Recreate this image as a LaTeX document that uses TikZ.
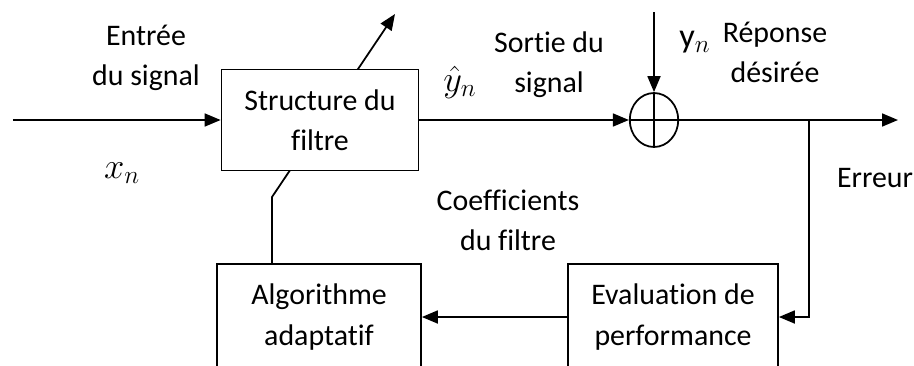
\documentclass[tikz,border=0pt]{standalone}
\usepackage{fontspec}
\setmainfont{Carlito}[Ligatures=NoCommon]
\usetikzlibrary{arrows.meta,shapes.geometric,backgrounds}
\begin{document}
\begin{tikzpicture}[
        >={Triangle[length=0.32cm,width=0.26cm]},
        line width=1pt,
        bloc/.style={draw,fill=white,align=center,font=\fontsize{17}{22.8}\selectfont},
        txt/.style={align=center,inner sep=1pt,font=\fontsize{17}{22.8}\selectfont},
        symb/.style={inner sep=1pt,font=\fontsize{19.5}{22}\selectfont},
        somme/.style={draw,ellipse,minimum width=0.97cm,minimum height=1.08cm,inner sep=0pt}
    ]
            \useasboundingbox (0,0) rectangle (18.28,-7.3);
            \clip (0,0) rectangle (18.28,-7.3);

            \node[bloc,minimum width=3.94cm,minimum height=2.02cm] (filtre) at (6.4,-2.4) {Structure du\\filtre};
            \node[somme] (sum) at (13.08,-2.4) {};
            \node[bloc,minimum width=4.08cm,minimum height=2.12cm] (algo) at (6.38,-6.34) {Algorithme\\adaptatif};
            \node[bloc,minimum width=4.2cm,minimum height=2.12cm] (eval) at (13.46,-6.34) {Evaluation de\\performance};

            \draw (sum.north) -- (sum.south);
            \draw (sum.west) -- (sum.east);

            \coordinate (entree) at (0.26,-2.4);
            \coordinate (sortie) at (17.96,-2.4);
            \coordinate (desire) at (13.08,-0.24);
            \coordinate (branche) at (16.18,-2.4);
            \coordinate (coude) at (5.44,-3.94);
            \coordinate (pointe) at (7.9,-0.28);

            \draw[->] (entree) -- (filtre);
            \draw[->] (filtre) -- (sum);
            \draw[->] (sum) -- (sortie);
            \draw[->] (desire) -- (sum);
            \draw[->] (branche) |- (eval);
            \draw[->] (eval) -- (algo);

            % reglage des coefficients, passe derriere le bloc
            \begin{scope}[on background layer]
                \draw[line width=1pt,->] (algo.north -| coude) -- (coude) -- (pointe);
            \end{scope}

            \node[txt] (entreelbl) at (2.92,-1.15) {Entrée\\du signal};
            \node[txt] (sortielbl) at (10.98,-1.3) {Sortie du\\signal};
            \node[txt] (reponse) at (15.5,-1.05) {Réponse\\désirée};
            \node[txt] (coeff) at (10.16,-4.4) {Coefficients\\du filtre};
            \node[txt] (erreur) at (17.5,-3.56) {Erreur};

            \node[symb] (xn) at (2.44,-3.46) {$x_n$};
            \node[symb] (yhat) at (9.2,-1.64) {$\hat{y}_n$};
            \node[symb] (yn) at (13.9,-0.84) {y$_n$};
        \end{tikzpicture}
\end{document}
